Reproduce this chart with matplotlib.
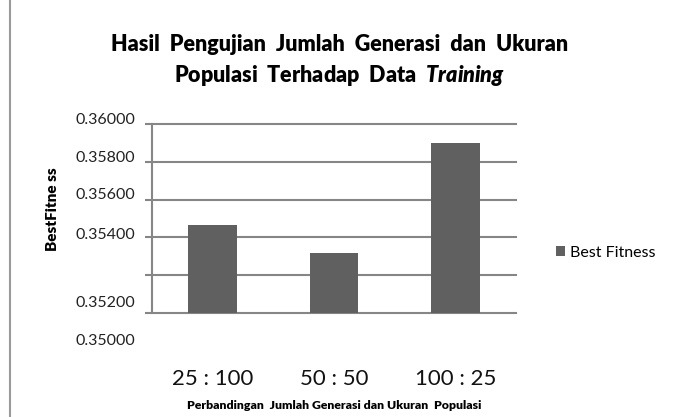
import matplotlib
matplotlib.use("Agg")
import matplotlib.pyplot as plt
import matplotlib.transforms as mtransforms
from matplotlib.lines import Line2D

# data
categories = ["25 : 100", "50 : 50", "100 : 25"]
best_fitness = [0.35466, 0.35317, 0.35899]
grid_values = [0.350, 0.352, 0.354, 0.356, 0.358, 0.360]
# axis labels as printed (the chart shows them shifted, bottom two drawn lower)
ytick_labels = ["0.36000", "0.35800", "0.35600", "0.35400", "0.35200", "0.35000"]
ytick_label_values = [0.360, 0.358, 0.356, 0.354, 0.352, 0.350]
ytick_label_shift = [3, 3, 3, 2, -20, -20]  # points, as seen in the picture

plt.rcParams["font.family"] = ["Lato", "DejaVu Sans"]
plt.rcParams["mathtext.fontset"] = "custom"
plt.rcParams["mathtext.it"] = "Lato:italic:heavy"

grey = "#868686"
bar_col = "#606060"

fig = plt.figure(figsize=(6.82, 4.17), dpi=100)
ax = fig.add_axes([152 / 682, 1 - 313 / 417, 364 / 682, 189 / 417])

x = range(len(categories))
bars = ax.bar(x, best_fitness, width=0.40, color=bar_col, zorder=3)
ax.set_xlim(-0.5, 2.5)
ax.set_ylim(0.350, 0.360)

for v in grid_values:
    ax.axhline(v, color=grey, lw=1.5, zorder=2, clip_on=False)

ax.set_yticks(grid_values)
ax.set_yticklabels([])
ax.tick_params(axis="y", length=5, width=1.5, color=grey)
ax.set_xticks(list(x))
ax.set_xticklabels(categories, fontsize=16, color="#111111")
ax.tick_params(axis="x", length=0, pad=40)

for s in ["top", "right", "bottom"]:
    ax.spines[s].set_visible(False)
ax.spines["left"].set_color(grey)
ax.spines["left"].set_linewidth(1.5)

for lab, val, sh in zip(ytick_labels, ytick_label_values, ytick_label_shift):
    tr = mtransforms.blended_transform_factory(ax.transAxes, ax.transData)
    tr = tr + mtransforms.ScaledTranslation(0, sh / 72, fig.dpi_scale_trans)
    ax.text(-0.047, val, lab, transform=tr, ha="right", va="center",
            fontsize=11.5, color="#222222", clip_on=False)

ax.set_ylabel("BestFitne ss", fontsize=11, fontweight="heavy")
ax.yaxis.set_label_coords(-0.255, 0.55)
ax.set_xlabel("Perbandingan  Jumlah Generasi dan Ukuran  Populasi",
              fontsize=8.8, fontweight="heavy")
ax.xaxis.set_label_coords(0.5, -0.46)

fig.text(0.4985, 1 - 51 / 417, "Hasil  Pengujian  Jumlah  Generasi  dan  Ukuran",
         ha="center", va="baseline", fontsize=15.5, fontweight="heavy")
fig.text(0.4985, 1 - 82 / 417, r"Populasi  Terhadap  Data  $Training$",
         ha="center", va="baseline", fontsize=15.5, fontweight="heavy")

ax.legend([bars], ["Best Fitness"], loc="center left", bbox_to_anchor=(1.07, 0.32),
          frameon=False, fontsize=11.5, handlelength=0.6, handleheight=0.6,
          handletextpad=0.3)

# page border on the left
fig.add_artist(Line2D([10 / 682, 10 / 682], [0, 1], color="#9a9a9a", lw=1.5,
                      transform=fig.transFigure))

fig.savefig("out.png", dpi=100)
